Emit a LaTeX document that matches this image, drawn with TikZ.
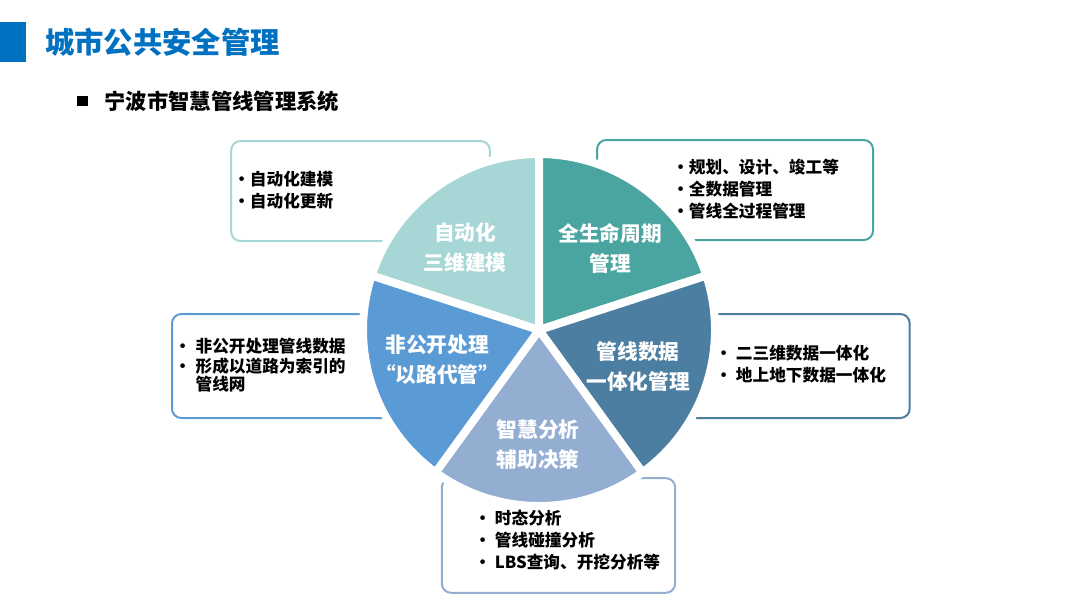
\documentclass[tikz,border=0pt]{standalone}
\usepackage{fontspec}
\setmainfont{Noto Sans CJK SC}
\usepackage{tikz}
\usetikzlibrary{positioning}

\definecolor{titleblue}{HTML}{0070C0}
\definecolor{pieA}{HTML}{A7D6D6}
\definecolor{pieB}{HTML}{4AA4A0}
\definecolor{pieC}{HTML}{4B7EA1}
\definecolor{pieD}{HTML}{94AED2}
\definecolor{pieE}{HTML}{5B9BD5}

\begin{document}
\begin{tikzpicture}[
  x=0.75pt, y=-0.75pt,
  font=\bfseries,
  box/.style={draw, rounded corners=7pt, line width=1.5pt, fill=white,
    minimum height=75pt, inner sep=0pt},
  items/.style={font=\fontsize{12.5}{16.5}\selectfont\bfseries,
    align=left, anchor=west, inner sep=0pt},
  slice/.style={draw=white, line width=6pt, line join=miter},
  plabel/.style={font=\fontsize{15.5}{22.5}\selectfont\bfseries,
    text=white, align=center, inner sep=0pt},
]
  \useasboundingbox (0,0) rectangle (1080,607);

  % heading
  \node[fill=titleblue, minimum width=19.5pt, minimum height=30.5pt,
    inner sep=0pt] (bar) at (13,42) {};
  \node[anchor=west, inner sep=0pt, text=titleblue,
    font=\fontsize{22}{26}\selectfont\bfseries] (title) at (45,42)
    {城市公共安全管理};
  \node[fill=black, minimum size=8pt, inner sep=0pt] (sq) at (82.5,101) {};
  \node[anchor=west, inner sep=0pt, right=12pt of sq,
    font=\fontsize{16}{20}\selectfont\bfseries] (sub)
    {宁波市智慧管线管理系统};

  % text boxes
  \node[box, draw=pieA, minimum width=194pt] (b1) at (360.5,191) {};
  \node[box, draw=pieB, minimum width=207pt] (b2) at (735,190) {};
  \node[box, draw=pieE, minimum width=201pt, minimum height=78pt] (b3) at (306,366) {};
  \node[box, draw=pieC, minimum width=202pt, minimum height=78pt] (b4) at (775,366) {};
  \node[box, draw=pieD, minimum width=175pt, minimum height=86pt] (b5) at (558.5,535.5) {};

  \node[items] (t1) at (233,190) {•自动化建模\\•自动化更新};
  \node[items] (t2) at (672,189) {•规划、设计、竣工等\\•全数据管理\\•管线全过程管理};
  \node[items] (t3) at (174,365) {•\hspace{3.5pt}非公开处理管线数据\\[-1.5pt]•\hspace{3.5pt}形成以道路为索引的\\[-3pt]\phantom{•\hspace{3.5pt}}管线网};
  \node[items] (t4) at (715,364) {•\hspace{3pt}二三维数据一体化\\•\hspace{3pt}地上地下数据一体化};
  \node[items] (t5) at (474,540) {•\hspace{3pt}时态分析\\•\hspace{3pt}管线碰撞分析\\•\hspace{3pt}LBS查询、开挖分析等};

  % pie
  \coordinate (c) at (539,330);
  \filldraw[slice, fill=pieA] (c) -- ++(90:132pt) arc[start angle=90, end angle=162, radius=132pt] -- cycle;
  \filldraw[slice, fill=pieB] (c) -- ++(18:132pt) arc[start angle=18, end angle=90, radius=132pt] -- cycle;
  \filldraw[slice, fill=pieC] (c) -- ++(-54:132pt) arc[start angle=-54, end angle=18, radius=132pt] -- cycle;
  \filldraw[slice, fill=pieD] (c) -- ++(-126:132pt) arc[start angle=-126, end angle=-54, radius=132pt] -- cycle;
  \filldraw[slice, fill=pieE] (c) -- ++(162:132pt) arc[start angle=162, end angle=234, radius=132pt] -- cycle;

  \node[plabel] (p1) at (465,248) {自动化\\三维建模};
  \node[plabel] (p2) at (610,248) {全生命周期\\管理};
  \node[plabel] (p3) at (638,367) {管线数据\\一体化管理};
  \node[plabel] (p4) at (538,445) {智慧分析\\辅助决策};
  \node[plabel] (p5) at (437,360) {非公开处理\\“以路代管”};
\end{tikzpicture}
\end{document}
